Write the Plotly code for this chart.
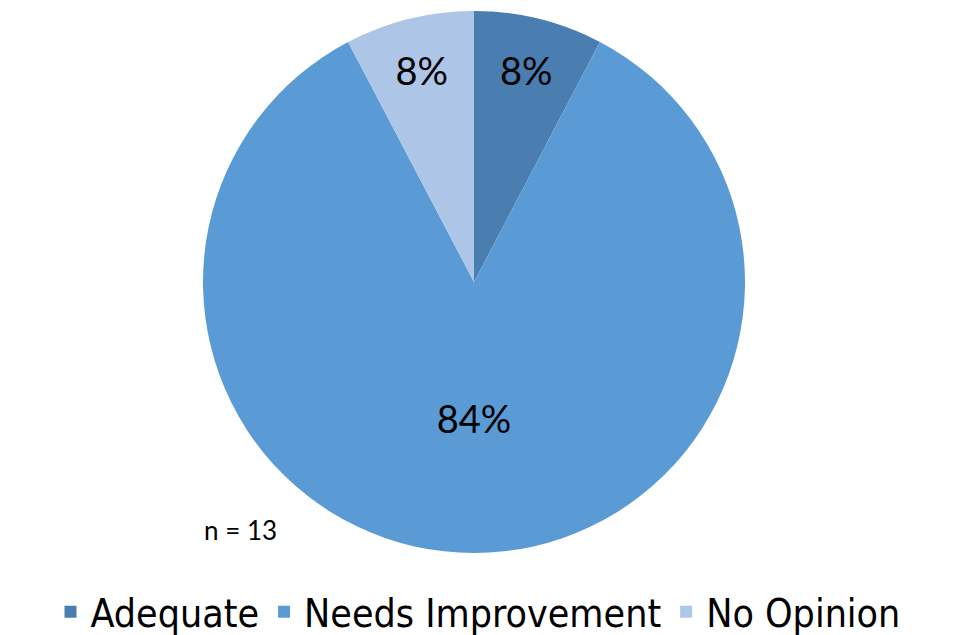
import plotly.graph_objects as go

categories = ["Adequate", "Needs Improvement", "No Opinion"]
counts = [1, 11, 1]
pct_labels = ["8%", "84%", "8%"]
colors = ["#4a7eb0", "#5b9bd5", "#adc5e7"]

# the page body adds an 8px margin, so the figure is sized to fit inside it
W, H = 945, 627
OFF = 8
cx, cy, r = 474 - OFF, 282 - OFF, 271

fig = go.Figure(go.Pie(
    labels=categories,
    values=counts,
    text=pct_labels,
    textinfo="text",
    textposition="inside",
    insidetextorientation="horizontal",
    sort=False,
    direction="clockwise",
    rotation=0,
    marker=dict(colors=colors, line=dict(width=0)),
    textfont=dict(family="Lato, Open Sans, sans-serif", size=38, color="black"),
    domain=dict(x=[(cx - r) / W, (cx + r) / W], y=[1 - (cy + r) / H, 1 - (cy - r) / H]),
    hoverinfo="label+percent",
))

fig.add_annotation(
    x=(240 - OFF) / W, y=1 - (530 - OFF) / H, xref="paper", yref="paper",
    xanchor="center", yanchor="middle",
    text="n = 13", showarrow=False,
    font=dict(family="Lato, Open Sans, sans-serif", size=26, color="black"),
)

fig.update_layout(
    width=W, height=H,
    margin=dict(l=0, r=0, t=0, b=0, autoexpand=False),
    paper_bgcolor="white",
    plot_bgcolor="white",
    showlegend=True,
    legend=dict(
        orientation="h",
        x=(478 - OFF) / W, xanchor="center",
        y=-9 / H, yanchor="bottom",
        font=dict(family="DejaVu Sans Condensed, Lato, sans-serif", size=39, color="black"),
        itemsizing="constant",
        traceorder="normal",
    ),
)

fig.write_html("out.html")
